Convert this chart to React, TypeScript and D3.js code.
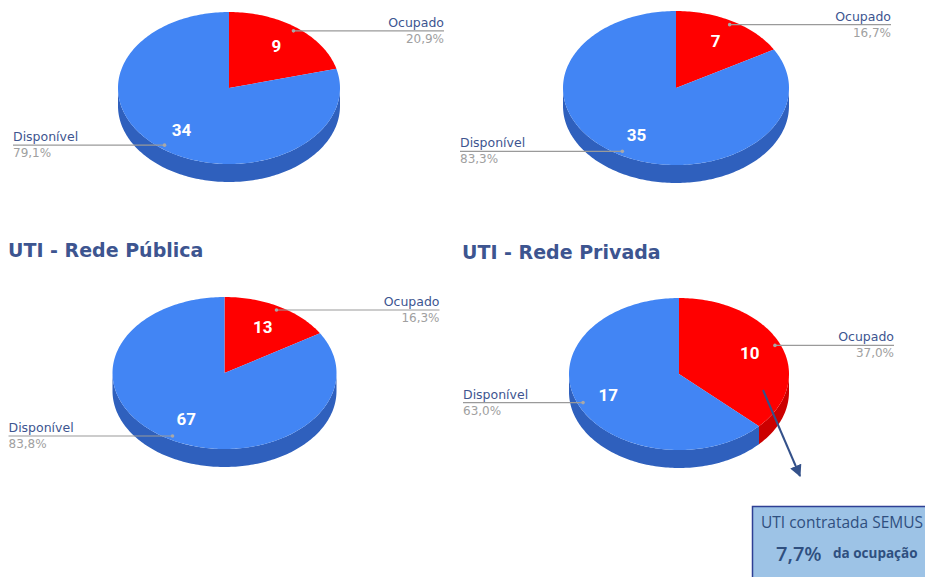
import React from "react";
import * as d3 from "d3";

const categories = ["Ocupado", "Disponível"];
const pieTitles = ["", "", "UTI - Rede Pública", "UTI - Rede Privada"];
const valuesTL = [9, 34];
const valuesTR = [7, 35];
const valuesBL = [13, 67];
const valuesBR = [10, 17];
const percentLabels = [
  ["20,9%", "79,1%"],
  ["16,7%", "83,3%"],
  ["16,3%", "83,8%"],
  ["37,0%", "63,0%"],
];
const boxTitle = "UTI contratada SEMUS";
const boxValue = "7,7%";
const boxSuffix = "da ocupação";

const allValues = [valuesTL, valuesTR, valuesBL, valuesBR];

const W = 925;
const H = 577;

const layout = [
  { cx: 229, cy: 88, rx: 111, ry: 76 },
  { cx: 676, cy: 88, rx: 113, ry: 77 },
  { cx: 224.5, cy: 373, rx: 112, ry: 76 },
  { cx: 679, cy: 374, rx: 110, ry: 76 },
];
const titlePos = [null, null, { x: 8, y: 257 }, { x: 462, y: 259 }];

const DEPTH = 18;
const topColors = ["#ff0000", "#4285f4"];
const sideColors = ["#cc0000", "#2f60bd"];
const labelColor = "#3d5590";
const labelFont = "'DejaVu Sans', Verdana, sans-serif";

function ellPt(cx: number, cy: number, rx: number, ry: number, a: number, f = 1): [number, number] {
  return [cx + rx * f * Math.sin(a), cy - ry * f * Math.cos(a)];
}

function arcPts(cx: number, cy: number, rx: number, ry: number, a0: number, a1: number, dy = 0) {
  const n = Math.max(2, Math.ceil(Math.abs(a1 - a0) / 0.02));
  const pts: [number, number][] = [];
  for (let i = 0; i <= n; i++) {
    const a = a0 + ((a1 - a0) * i) / n;
    const p = ellPt(cx, cy, rx, ry, a);
    pts.push([p[0], p[1] + dy]);
  }
  return pts;
}

const line = d3.line<[number, number]>().curve(d3.curveLinear);

function Pie3D({ idx }: { idx: number }) {
  const values = allValues[idx];
  const { cx, cy, rx, ry } = layout[idx];
  const arcs = d3.pie<number>().sort(null).startAngle(0).endAngle(2 * Math.PI)(values);
  const frontStart = Math.PI / 2;
  const frontEnd = (3 * Math.PI) / 2;
  const sides: React.ReactNode[] = [];
  const tops: React.ReactNode[] = [];
  const labels: React.ReactNode[] = [];
  arcs.forEach((a, i) => {
    const s = Math.max(a.startAngle, frontStart);
    const e = Math.min(a.endAngle, frontEnd);
    if (e > s) {
      const topArc = arcPts(cx, cy, rx, ry, s, e);
      const botArc = arcPts(cx, cy, rx, ry, e, s, DEPTH);
      sides.push(
        <path key={"s" + i} d={(line([...topArc, ...botArc]) || "") + "Z"} fill={sideColors[i]} />
      );
    }
    const pts = [[cx, cy] as [number, number], ...arcPts(cx, cy, rx, ry, a.startAngle, a.endAngle)];
    tops.push(<path key={"t" + i} d={(line(pts) || "") + "Z"} fill={topColors[i]} />);

    const mid = (a.startAngle + a.endAngle) / 2;
    const [vx, vy] = ellPt(cx, cy, rx, ry, mid, 0.7);
    labels.push(
      <text
        key={"v" + i}
        x={vx}
        y={vy + 6}
        textAnchor="middle"
        fill="#ffffff"
        fontFamily="Roboto, Arial, sans-serif"
        fontWeight="bold"
        fontSize={17}
      >
        {values[i]}
      </text>
    );
    const [dx, dy] = ellPt(cx, cy, rx, ry, mid, 0.95);
    const right = Math.sin(mid) >= 0;
    const ex = right ? cx + 215 : cx - 216;
    labels.push(
      <g key={"l" + i}>
        <line x1={dx} y1={dy} x2={ex} y2={dy} stroke="#9a9a9a" strokeWidth={1.2} />
        <circle cx={dx} cy={dy} r={1.8} fill="#a8a8a8" />
        <text
          x={ex}
          y={dy - 4}
          textAnchor={right ? "end" : "start"}
          fill={labelColor}
          fontFamily={labelFont}
          fontSize={12.5}
        >
          {categories[i]}
        </text>
        <text
          x={ex}
          y={dy + 12}
          textAnchor={right ? "end" : "start"}
          fill="#a0a0a0"
          fontFamily={labelFont}
          fontSize={12}
        >
          {percentLabels[idx][i]}
        </text>
      </g>
    );
  });
  const tp = titlePos[idx];
  return (
    <g>
      {tp && (
        <text
          x={tp.x}
          y={tp.y}
          fill={labelColor}
          fontFamily={labelFont}
          fontWeight="bold"
          fontSize={19}
        >
          {pieTitles[idx]}
        </text>
      )}
      {sides}
      {tops}
      {labels}
    </g>
  );
}

export default function App() {
  return (
    <svg
      width={W}
      height={H}
      style={{ position: "absolute", left: 0, top: 0, background: "#ffffff" }}
    >
      <defs>
        <marker id="ah" viewBox="0 0 10 10" refX="9" refY="5" markerWidth="6" markerHeight="6" orient="auto">
          <path d="M0,0 L10,5 L0,10 Z" fill="#34518a" />
        </marker>
      </defs>
      <rect width={W} height={H} fill="#ffffff" />
      {[0, 1, 2, 3].map((i) => (
        <Pie3D key={i} idx={i} />
      ))}
      <line x1={763} y1={390} x2={800} y2={476} stroke="#34518a" strokeWidth={2} markerEnd="url(#ah)" />
      <rect x={752.5} y={506.5} width={180} height={80} fill="#9dc3e6" stroke="#2e3f94" strokeWidth={1.5} />
      <text x={761} y={528} fill="#2f4f7f" fontFamily="'Open Sans', Calibri, sans-serif" fontSize={15.5}>
        {boxTitle}
      </text>
      <text x={776} y={561} fill="#2f4f7f" fontFamily="'Open Sans', Calibri, sans-serif" fontWeight="600" fontSize={20}>
        {boxValue}
      </text>
      <text x={833} y={558} fill="#2f4f7f" fontFamily="'Open Sans', Calibri, sans-serif" fontWeight="bold" fontSize={13.5}>
        {boxSuffix}
      </text>
    </svg>
  );
}
